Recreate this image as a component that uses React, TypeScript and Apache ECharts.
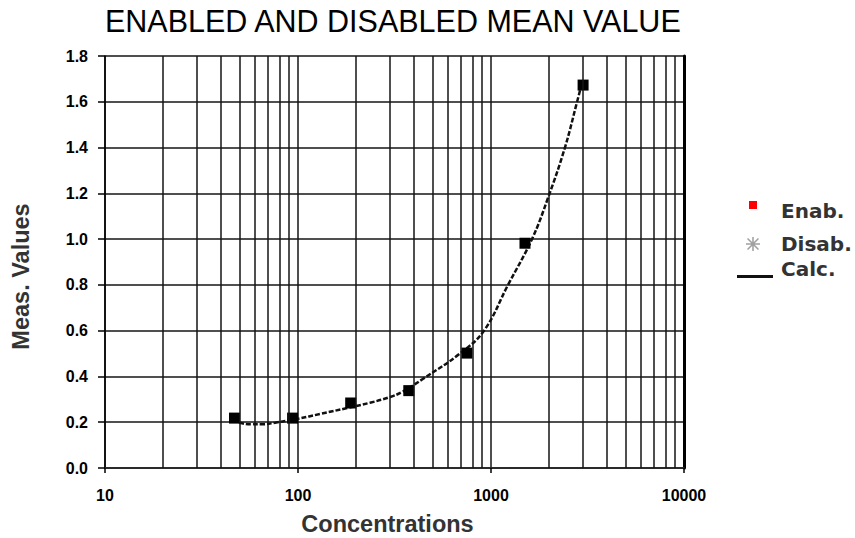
import React, { useEffect, useRef } from "react";
import * as echarts from "echarts";

// Measured points (Enab.)
const concentrations = [46.875, 93.75, 187.5, 375, 750, 1500, 3000];
const measValues = [0.218, 0.218, 0.284, 0.338, 0.502, 0.982, 1.673];

// Calculated curve (Calc.)
const calcX = [46, 50, 57, 66, 76, 88, 100, 130, 180, 236, 300, 346, 445, 690, 920, 1225, 1631, 1974, 2416, 2793, 2925];
const calcY = [0.214, 0.198, 0.191, 0.191, 0.198, 0.207, 0.215, 0.236, 0.262, 0.285, 0.31, 0.332, 0.39, 0.5, 0.6, 0.8, 1.0, 1.18, 1.4, 1.6, 1.665];

// Disabled points (none shown)
const disabledValues: number[][] = [];

// Minor vertical grid positions on the log axis
const minorGrid = [20, 30, 40, 50, 60, 70, 80, 90, 200, 300, 400, 500, 600, 700, 800, 900, 2000, 3000, 4000, 5000, 6000, 7000, 8000, 9000];

const TITLE = "ENABLED AND DISABLED MEAN VALUE";
const X_NAME = "Concentrations";
const Y_NAME = "Meas. Values";

const mainFont = "'Liberation Sans', Arial, Helvetica, sans-serif";
const legendFont = "'DejaVu Sans', Verdana, sans-serif";

const ASTERISK =
  "path://M1,9H19V11H1Z M9,1H11V19H9Z M2.3,3.7L3.7,2.3L17.7,16.3L16.3,17.7Z M16.3,2.3L17.7,3.7L3.7,17.7L2.3,16.3Z";

export default function App() {
  const ref = useRef<HTMLDivElement>(null);
  useEffect(() => {
    if (!ref.current) return;
    const chart = echarts.init(ref.current, undefined, { renderer: "svg" });
    const gridLine = { color: "#151515", width: 1.5 };
    const legendText = (pad: number) => ({
      rich: {
        t: {
          padding: [0, 0, 0, pad],
          fontSize: 20,
          fontWeight: "bold",
          color: "#333",
          fontFamily: legendFont,
        },
      },
    });
    const tickLabel = {
      color: "#000",
      fontFamily: mainFont,
      fontSize: 16,
      fontWeight: "bold",
    };
    const nameStyle = { fontFamily: mainFont, fontSize: 23.5, fontWeight: "bold", color: "#333" };
    const option: any = {
      animation: false,
      backgroundColor: "#fff",
      title: {
        text: TITLE,
        left: 105,
        top: 5,
        padding: 0,
        textStyle: { fontFamily: mainFont, fontSize: 30.5, fontWeight: "normal", color: "#000" },
      },
      grid: { left: 105, right: 171, top: 56, bottom: 70, containLabel: false, outerBoundsMode: "none" },
      xAxis: [
        {
          type: "log",
          logBase: 10,
          min: 10,
          max: 10000,
          name: X_NAME,
          nameLocation: "middle",
          nameGap: 44,
          nameTextStyle: { ...nameStyle, padding: [0, 14, 0, 0] },
          axisLine: { show: true, lineStyle: { color: "#000", width: 1.5 } },
          axisTick: { show: true, length: 5, lineStyle: { color: "#000", width: 1.5 } },
          axisLabel: {
            ...tickLabel,
            margin: 19,
            formatter: (v: number) => String(Math.round(v)),
          },
          splitLine: { show: true, lineStyle: gridLine },
        },
        {
          type: "log",
          logBase: 10,
          min: 10,
          max: 10000,
          position: "bottom",
          offset: 3,
          axisLine: { show: true, lineStyle: { color: "#333", width: 1.5 } },
          axisTick: { show: false },
          axisLabel: { show: false },
          splitLine: { show: false },
        },
      ],
      yAxis: [
        {
          type: "value",
          min: 0,
          max: 1.8,
          interval: 0.2,
          name: Y_NAME,
          nameLocation: "middle",
          nameGap: 72,
          nameTextStyle: { ...nameStyle, padding: [0, 29, 0, 0] },
          axisLine: { show: true, lineStyle: { color: "#000", width: 1.5 } },
          axisTick: { show: true, length: 7, lineStyle: { color: "#000", width: 1.5 } },
          axisLabel: {
            ...tickLabel,
            margin: 17,
            formatter: (v: number) => v.toFixed(1),
          },
          splitLine: { show: true, lineStyle: gridLine },
        },
        {
          type: "value",
          position: "right",
          min: 0,
          max: 1.8,
          interval: 0.2,
          axisLine: { show: true, lineStyle: { color: "#000", width: 3 } },
          axisTick: { show: false },
          axisLabel: { show: false },
          splitLine: { show: false },
        },
      ],
      legend: [
        {
          data: [{ name: "Enab.", icon: "path://M0,0H8V8H0Z M0,20L0.01,20", itemStyle: { color: "#ff0000" } }],
          left: 749,
          top: 201,
          padding: 0,
          itemWidth: 8,
          itemHeight: 20,
          selectedMode: false,
          formatter: (n: string) => `{t|${n}}`,
          textStyle: legendText(19),
        },
        {
          data: [{ name: "Disab.", icon: ASTERISK, itemStyle: { color: "#8a8a8a" } }],
          left: 746,
          top: 234,
          padding: 0,
          itemWidth: 14,
          itemHeight: 14,
          selectedMode: false,
          formatter: (n: string) => `{t|${n}}`,
          textStyle: legendText(16),
        },
        {
          data: [{ name: "Calc.", icon: "path://M0,15H36V18H0Z M0,0L0.01,0", itemStyle: { color: "#111" } }],
          left: 737,
          top: 259,
          padding: 0,
          itemWidth: 36,
          itemHeight: 18,
          selectedMode: false,
          formatter: (n: string) => `{t|${n}}`,
          textStyle: legendText(3),
        },
      ],
      series: [
        {
          name: "Disab.",
          type: "scatter",
          data: disabledValues,
          symbol: ASTERISK,
          symbolSize: 13,
          itemStyle: { color: "#8a8a8a" },
          z: 1,
          markLine: {
            silent: true,
            symbol: ["none", "none"],
            label: { show: false },
            lineStyle: { color: "#151515", width: 1.5, type: "solid" },
            emphasis: { disabled: true },
            data: minorGrid.map((v) => ({ xAxis: v })),
          },
        },
        {
          name: "Calc.",
          type: "line",
          data: calcX.map((x, i) => [x, calcY[i]]),
          smooth: 0.4,
          showSymbol: false,
          symbol: "none",
          itemStyle: { color: "#111" },
          lineStyle: { color: "#111", width: 2.5, type: [5, 2] },
          z: 3,
        },
        {
          name: "Enab.",
          type: "scatter",
          data: concentrations.map((x, i) => [x, measValues[i]]),
          symbol: "rect",
          symbolSize: 11,
          itemStyle: { color: "#000", opacity: 1 },
          z: 4,
        },
      ],
    };
    chart.setOption(option);
    return () => chart.dispose();
  }, []);
  return (
    <div
      ref={ref}
      style={{ position: "absolute", left: 0, top: 0, width: 855, height: 538, background: "#fff" }}
    />
  );
}
